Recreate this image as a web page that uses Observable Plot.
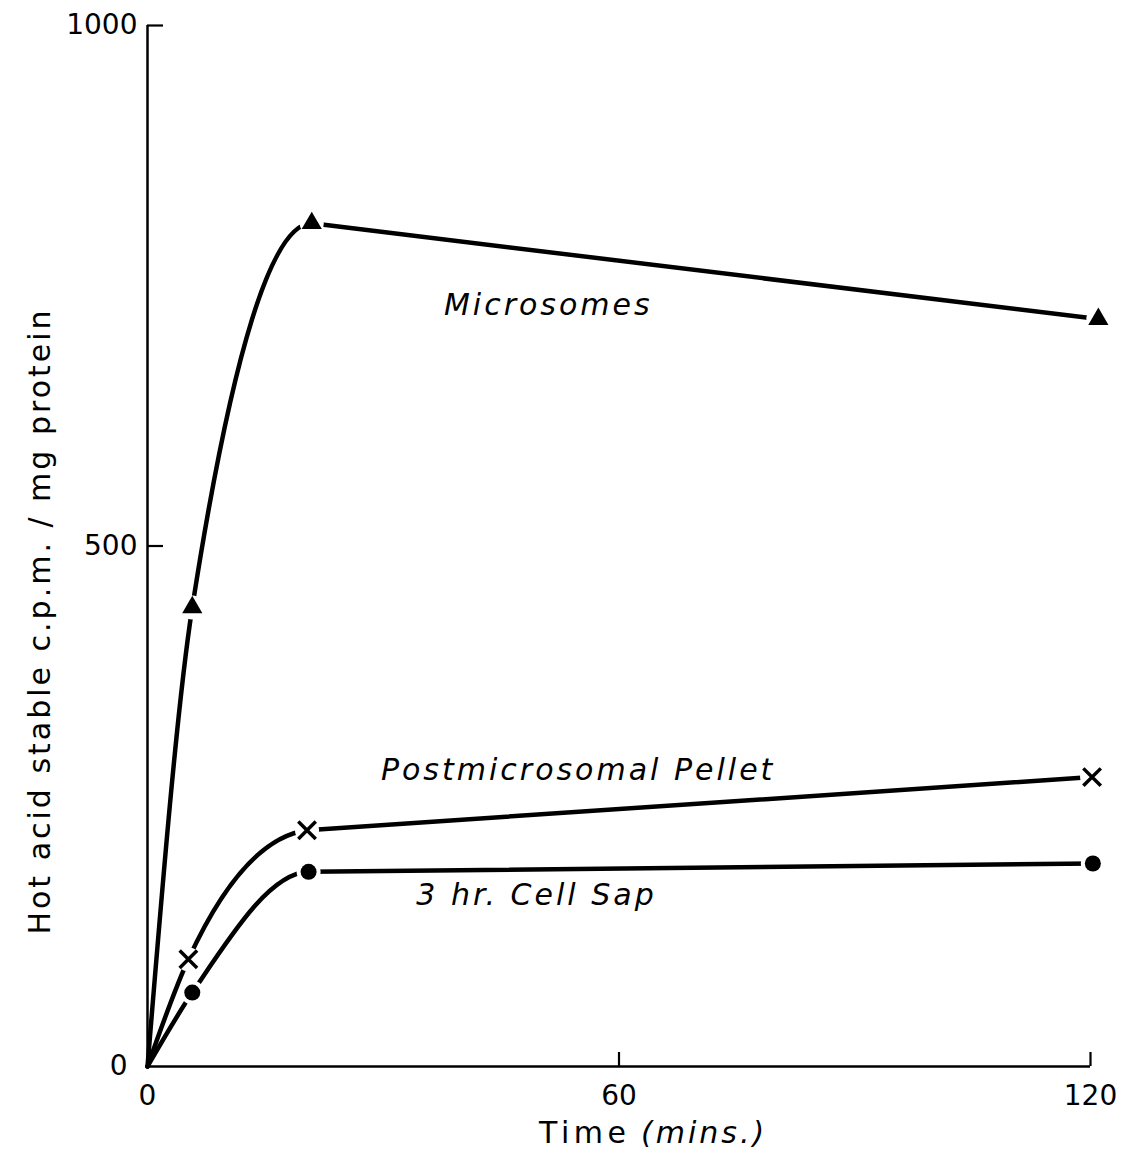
<!DOCTYPE html>
<html><head><meta charset="utf-8">
<script src="https://cdn.jsdelivr.net/npm/d3@7"></script>
<script src="https://cdn.jsdelivr.net/npm/@observablehq/plot@0.6"></script>
<style>
body{margin:0;background:#fff}
.lbl text{letter-spacing:3px}
.lblw text{letter-spacing:4.5px}
</style>
</head><body><div id="chart"></div>
<script>
const seriesNames = ["Microsomes", "Postmicrosomal Pellet", "3 hr. Cell Sap"];
const seriesSymbols = ["triangle", "times", "circle"];
const microsomesTime = [0, 5.7, 20.9, 121];
const microsomesCpm = [0, 441, 810, 718];
const pelletTime = [0, 5.2, 20.3, 120.2];
const pelletCpm = [0, 103, 227, 278];
const cellSapTime = [0, 5.7, 20.5, 120.3];
const cellSapCpm = [0, 71, 187, 195];
const xTicks = [0, 60, 120];
const yTicks = [0, 500, 1000];
const xLabel = "Time";
const xUnit = "(mins.)";
const yLabel = "Hot acid stable c.p.m. / mg protein";

const rows = [];
[[microsomesTime, microsomesCpm], [pelletTime, pelletCpm], [cellSapTime, cellSapCpm]]
  .forEach(([ts, vs], s) => ts.forEach((t, i) =>
    rows.push({series: seriesNames[s], symbol: seriesSymbols[s], t, v: vs[i], i})));
const marked = rows.filter(d => d.i >= 1);
const bySym = s => marked.filter(d => d.symbol === s);
const fmt = d3.format("d");

// hand-drawn style: monotone (smooth) rise, straight final segment
function curveKnee(context) {
  let xs = [], ys = [];
  return {
    areaStart() {}, areaEnd() {},
    lineStart() { xs = []; ys = []; },
    point(x, y) { xs.push(+x); ys.push(+y); },
    lineEnd() {
      const n = xs.length;
      if (!n) return;
      const s = [];
      for (let i = 0; i < n - 1; i++) s.push((ys[i + 1] - ys[i]) / (xs[i + 1] - xs[i]));
      const t = new Array(n).fill(0);
      for (let i = 1; i < n - 1; i++) {
        const h0 = xs[i] - xs[i - 1], h1 = xs[i + 1] - xs[i];
        const p = (s[i - 1] * h1 + s[i] * h0) / (h0 + h1);
        t[i] = (Math.sign(s[i - 1]) + Math.sign(s[i])) * Math.min(Math.abs(s[i - 1]), Math.abs(s[i]), 0.5 * Math.abs(p)) || 0;
      }
      if (n > 2) t[0] = (3 * s[0] - t[1]) / 2;
      context.moveTo(xs[0], ys[0]);
      for (let i = 0; i < n - 1; i++) {
        const h = xs[i + 1] - xs[i];
        if (i === n - 2) context.lineTo(xs[i + 1], ys[i + 1]);
        else context.bezierCurveTo(xs[i] + h / 3, ys[i] + t[i] * h / 3, xs[i + 1] - h / 3, ys[i + 1] - t[i + 1] * h / 3, xs[i + 1], ys[i + 1]);
      }
    }
  };
}

const chart = Plot.plot({
  width: 1125, height: 1157,
  marginLeft: 147, marginRight: 35, marginTop: 25, marginBottom: 91,
  style: {fontFamily: "DejaVu Sans", fontSize: "28px", color: "black", background: "white"},
  x: {domain: [0, 120]},
  y: {domain: [0, 1000]},
  marks: [
    Plot.ruleX([0], {strokeWidth: 2.5}),
    Plot.ruleY([0], {strokeWidth: 2.5}),
    Plot.axisY({ticks: [500, 1000], tickSize: -16, tickFormat: () => "", label: null, strokeWidth: 2.2}),
    Plot.axisY({ticks: yTicks.filter(d => d > 0), tickSize: 0, tickPadding: 10, tickFormat: fmt, fontSize: 28, label: null}),
    Plot.axisY({ticks: yTicks.filter(d => d === 0), tickSize: 0, tickPadding: 20, tickFormat: fmt, fontSize: 28, label: null}),
    Plot.axisX({ticks: [60, 120], tickSize: -14, tickFormat: () => "", label: null, strokeWidth: 2.2}),
    Plot.axisX({ticks: xTicks, tickSize: 0, tickPadding: 19, tickFormat: fmt, fontSize: 28, label: null}),
    Plot.line(rows, {x: "t", y: "v", z: "series", curve: curveKnee, strokeWidth: 4.5}),
    Plot.dot(marked, {x: "t", y: "v", r: 12, fill: "white"}),
    Plot.dot(bySym("triangle"), {x: "t", y: "v", symbol: "triangle", r: 7.5, fill: "black"}),
    Plot.dot(bySym("circle"), {x: "t", y: "v", r: 8, fill: "black"}),
    Plot.dot(bySym("times"), {x: "t", y: "v", symbol: "times", r: 8, stroke: "black", strokeWidth: 3.5}),
    Plot.text([seriesNames[0]], {x: 51, y: 731, fontSize: 30, fontStyle: "italic", className: "lbl"}),
    Plot.text([seriesNames[1]], {x: 54.8, y: 284, fontSize: 30, fontStyle: "italic", className: "lbl"}),
    Plot.text([seriesNames[2]], {x: 49.5, y: 164, fontSize: 30, fontStyle: "italic", className: "lbl"}),
    Plot.text([yLabel], {frameAnchor: "left", dx: -107, dy: 75, rotate: -90, textAnchor: "middle", lineAnchor: "middle", fontSize: 30, className: "lbl"}),
    Plot.text([xLabel], {frameAnchor: "bottom", dx: -80, dy: 67, textAnchor: "start", lineAnchor: "middle", fontSize: 30, className: "lblw"}),
    Plot.text([xUnit], {frameAnchor: "bottom", dx: 22, dy: 67, textAnchor: "start", lineAnchor: "middle", fontSize: 30, fontStyle: "italic", className: "lbl"})
  ]
});
document.getElementById("chart").append(chart);
</script>
</body></html>
